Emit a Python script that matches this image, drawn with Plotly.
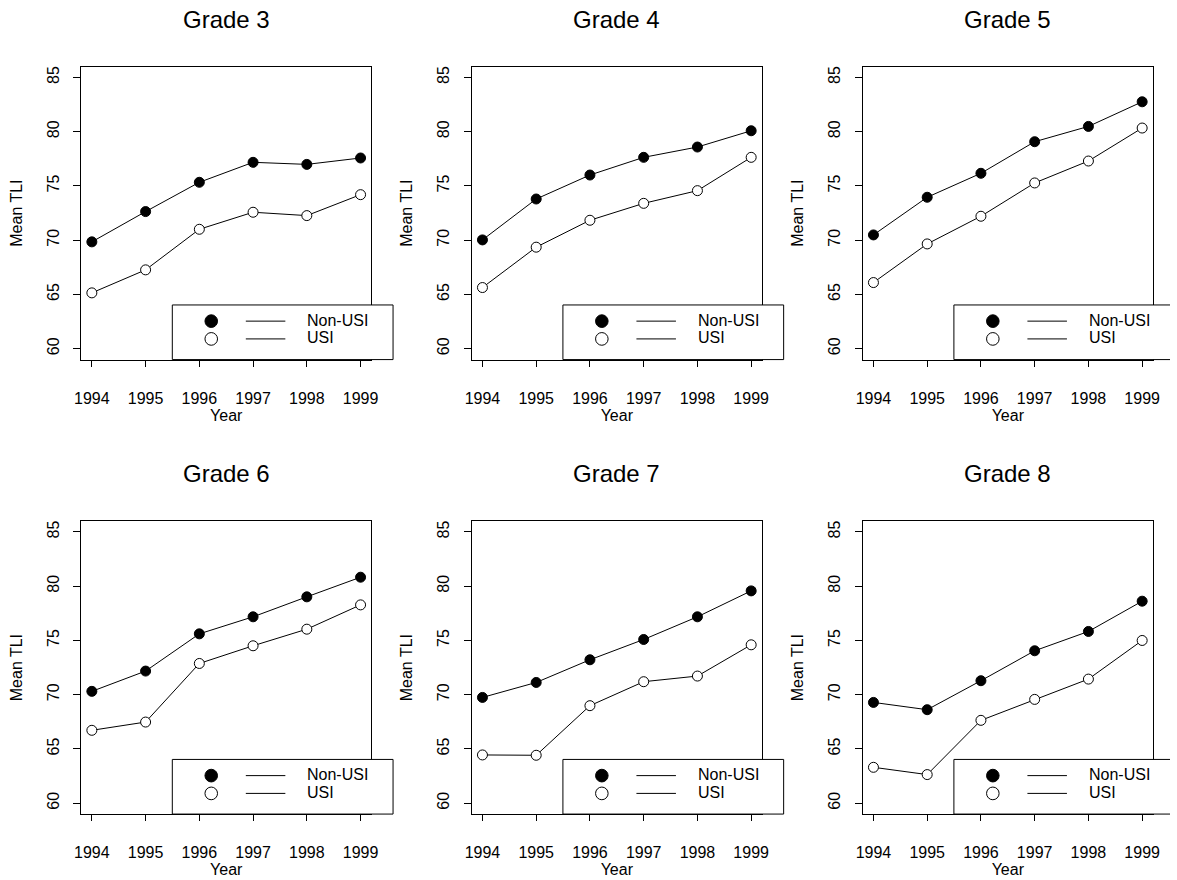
import plotly.graph_objects as go

# ---------------- data ----------------
years = [1994, 1995, 1996, 1997, 1998, 1999]
grade_titles = ["Grade 3", "Grade 4", "Grade 5", "Grade 6", "Grade 7", "Grade 8"]
y_ticks = [60, 65, 70, 75, 80, 85]

g3_non_usi = [69.85, 72.64, 75.34, 77.18, 76.99, 77.58]
g3_usi = [65.15, 67.27, 71.01, 72.58, 72.27, 74.20]
g4_non_usi = [70.03, 73.80, 76.01, 77.64, 78.59, 80.09]
g4_usi = [65.64, 69.36, 71.84, 73.40, 74.57, 77.64]
g5_non_usi = [70.49, 73.96, 76.17, 79.08, 80.49, 82.76]
g5_usi = [66.10, 69.66, 72.21, 75.28, 77.30, 80.34]
g6_non_usi = [70.31, 72.18, 75.61, 77.18, 79.02, 80.83]
g6_usi = [66.72, 67.48, 72.88, 74.51, 76.04, 78.28]
g7_non_usi = [69.75, 71.13, 73.22, 75.09, 77.18, 79.57]
g7_usi = [64.45, 64.42, 68.99, 71.20, 71.72, 74.60]
g8_non_usi = [69.29, 68.62, 71.29, 74.05, 75.83, 78.62]
g8_usi = [63.31, 62.64, 67.64, 69.57, 71.44, 75.00]

non_usi_series = [g3_non_usi, g4_non_usi, g5_non_usi, g6_non_usi, g7_non_usi, g8_non_usi]
usi_series = [g3_usi, g4_usi, g5_usi, g6_usi, g7_usi, g8_usi]
legend_labels = ["Non-USI", "USI"]

# ---------------- layout geometry (pixels) ----------------
W, H = 1177, 880
FONT = "Liberation Sans, Arial, Helvetica, sans-serif"
col_left = [75.0, 470.3, 866.0]
box_w = 293.7
row_top = [65.7, 520.7]
box_h = 293.3


def px(x):
    return min(x, W) / W


def py(y):
    return 1 - y / H


fig = go.Figure()
shapes = []
annotations = []

for i in range(6):
    r, c = divmod(i, 3)
    L = col_left[c]
    T = row_top[r]
    R = L + box_w
    B = T + box_h
    n = i + 1
    xa = "x" if n == 1 else f"x{n}"
    ya = "y" if n == 1 else f"y{n}"

    fig.add_trace(go.Scatter(
        x=years, y=non_usi_series[i], xaxis=xa, yaxis=ya, mode="lines+markers",
        line=dict(color="black", width=1),
        marker=dict(symbol="circle", size=10, color="black", line=dict(color="black", width=1)),
        showlegend=False, name=legend_labels[0], cliponaxis=False,
    ))
    fig.add_trace(go.Scatter(
        x=years, y=usi_series[i], xaxis=xa, yaxis=ya, mode="lines+markers",
        line=dict(color="black", width=1),
        marker=dict(symbol="circle", size=10, color="white", line=dict(color="black", width=1)),
        showlegend=False, name=legend_labels[1], cliponaxis=False,
    ))

    xkey = "xaxis" if n == 1 else f"xaxis{n}"
    ykey = "yaxis" if n == 1 else f"yaxis{n}"
    fig.layout[xkey] = dict(
        domain=[px(L), px(R)], anchor=ya, range=[1993.8, 1999.2],
        tickmode="array", tickvals=years, ticktext=[str(v) for v in years],
        ticks="outside", ticklen=6, tickwidth=1, tickcolor="black",
        showline=True, mirror=True, linecolor="black", linewidth=1,
        showgrid=False, zeroline=False,
        tickfont=dict(family=FONT, size=16, color="black"),
        ticklabelstandoff=18,
        title=dict(text="Year", font=dict(family=FONT, size=16, color="black"), standoff=0),
    )
    fig.layout[ykey] = dict(
        domain=[py(B), py(T)], anchor=xa, range=[59, 86],
        tickmode="array", tickvals=y_ticks, ticktext=[str(v) for v in y_ticks],
        ticks="outside", ticklen=7, tickwidth=1, tickcolor="black",
        showline=True, mirror=True, linecolor="black", linewidth=1,
        showgrid=False, zeroline=False, tickangle=-90,
        tickfont=dict(family=FONT, size=16, color="black"),
        ticklabelstandoff=8,
        title=dict(text="Mean TLI", font=dict(family=FONT, size=16, color="black"), standoff=18),
    )

    # subplot title
    annotations.append(dict(
        text=grade_titles[i], x=px((L + R) / 2), y=py(T - 47.5), xref="paper", yref="paper",
        xanchor="center", yanchor="middle", showarrow=False,
        font=dict(family=FONT, size=24, color="black"),
    ))

    # legend box (white fill, border drawn edge by edge; kept inside the page)
    lx0, lx1 = L + 92.3, L + 315.7
    ly0, ly1 = B - 54.7, B
    shapes.append(dict(type="rect", xref="paper", yref="paper",
                       x0=px(lx0), x1=px(lx1), y0=py(ly1), y1=py(ly0),
                       line=dict(width=0), fillcolor="white", layer="above"))
    edge = dict(color="black", width=1)
    shapes.append(dict(type="line", xref="paper", yref="paper", x0=px(lx0), x1=px(lx1),
                       y0=py(ly0), y1=py(ly0), line=edge, layer="above"))
    shapes.append(dict(type="line", xref="paper", yref="paper", x0=px(lx0), x1=px(lx1),
                       y0=py(ly1), y1=py(ly1), line=edge, layer="above"))
    shapes.append(dict(type="line", xref="paper", yref="paper", x0=px(lx0), x1=px(lx0),
                       y0=py(ly0), y1=py(ly1), line=edge, layer="above"))
    if lx1 < W - 1:
        shapes.append(dict(type="line", xref="paper", yref="paper", x0=px(lx1), x1=px(lx1),
                           y0=py(ly0), y1=py(ly1), line=edge, layer="above"))

    rows_y = [B - 38.5, B - 20.7]
    for k in range(2):
        yy = rows_y[k]
        d = 12.7
        shapes.append(dict(type="circle", xref="paper", yref="paper",
                           x0=px(L + 131.7 - d / 2), x1=px(L + 131.7 + d / 2),
                           y0=py(yy + d / 2), y1=py(yy - d / 2),
                           line=dict(color="black", width=1),
                           fillcolor="black" if k == 0 else "white", layer="above"))
        shapes.append(dict(type="line", xref="paper", yref="paper",
                           x0=px(L + 166.7), x1=px(L + 206.7), y0=py(yy), y1=py(yy),
                           line=dict(color="black", width=1), layer="above"))
        annotations.append(dict(
            text=legend_labels[k], x=px(L + 226.7), y=py(yy - 1), xref="paper", yref="paper",
            xanchor="left", yanchor="middle", showarrow=False,
            font=dict(family=FONT, size=16, color="black"),
        ))

fig.update_layout(
    width=W, height=H, autosize=False, margin=dict(l=0, r=0, t=0, b=0),
    paper_bgcolor="white", plot_bgcolor="white",
    shapes=shapes, annotations=annotations, showlegend=False,
    font=dict(family=FONT, size=16, color="black"),
)

fig.write_html(
    "out.html",
    config={"displayModeBar": False, "responsive": False},
    post_script="document.documentElement.style.overflow='hidden';document.body.style.margin='0px';document.body.style.overflow='hidden';",
)
